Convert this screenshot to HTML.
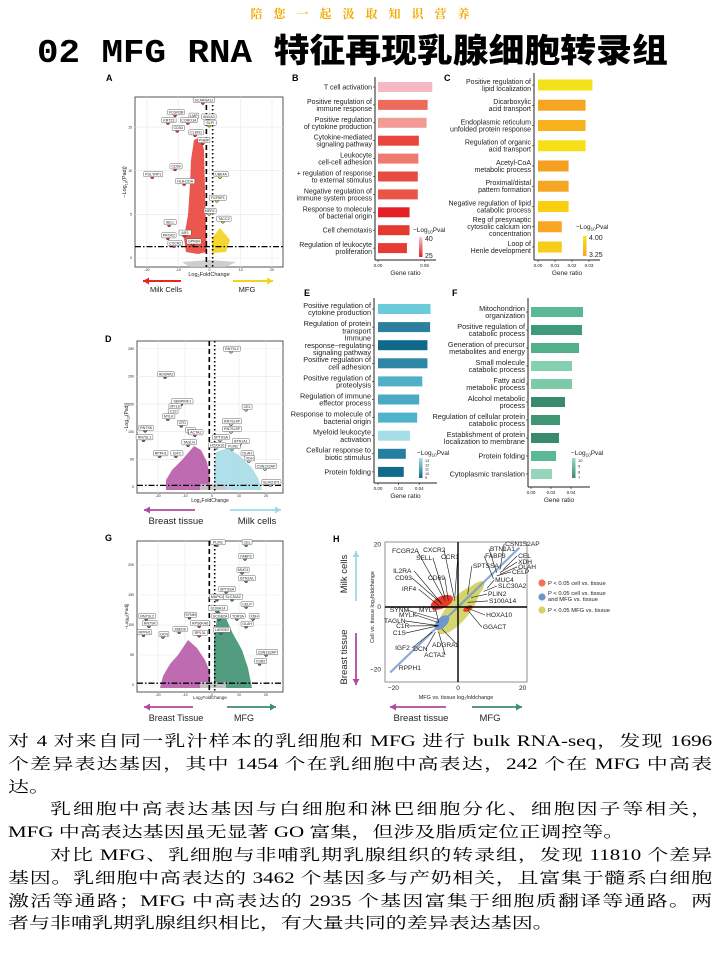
<!DOCTYPE html>
<html><head><meta charset="utf-8">
<style>
html,body{margin:0;padding:0;background:#fff;}
body{width:720px;height:960px;position:relative;overflow:hidden;font-family:"Liberation Sans","Noto Sans CJK SC",sans-serif;}
#hdr{position:absolute;top:5px;left:0;width:720px;text-align:center;color:#f2a900;font-family:"Noto Serif CJK SC","WenQuanYi Zen Hei",serif;font-weight:bold;font-size:12px;letter-spacing:11px;padding-left:11px;box-sizing:border-box;}
#title{position:absolute;top:28px;left:37px;white-space:nowrap;font-size:33px;font-weight:bold;line-height:40px;transform:scaleX(1.086);transform-origin:left top;color:#000;}
#title .lat{font-family:"Liberation Mono",monospace;}
#title .cjk{font-family:"Noto Sans CJK SC",sans-serif;font-weight:900;}
#para{position:absolute;top:731px;left:8px;width:520px;transform:scaleX(1.354);transform-origin:left top;font-family:"Liberation Serif","Noto Serif CJK SC",serif;font-size:15.5px;line-height:22.8px;color:#000;}
#para .ln{white-space:nowrap;height:22.8px;overflow:visible;}
#para .j{text-align:justify;text-align-last:justify;white-space:normal;}
#para .ind{text-indent:31px;}
svg{position:absolute;left:0;top:0;}
</style></head>
<body>
<div id="hdr">陪您一起汲取知识营养</div>
<div id="title"><span class="lat">02 MFG RNA </span><span class="cjk">特征再现乳腺细胞转录组</span></div>
<svg id="fig" width="720" height="960" viewBox="0 0 720 960"></svg>
<div id="para">
<div class="ln j">对 4 对来自同一乳汁样本的乳细胞和 MFG 进行 bulk RNA-seq，发现 1696</div>
<div class="ln j">个差异表达基因，其中 1454 个在乳细胞中高表达，242 个在 MFG 中高表</div>
<div class="ln">达。</div>
<div class="ln j ind">乳细胞中高表达基因与白细胞和淋巴细胞分化、细胞因子等相关，</div>
<div class="ln">MFG 中高表达基因虽无显著 GO 富集，但涉及脂质定位正调控等。</div>
<div class="ln j ind">对比 MFG、乳细胞与非哺乳期乳腺组织的转录组，发现 11810 个差异</div>
<div class="ln j">基因。乳细胞中高表达的 3462 个基因多与产奶相关，且富集于髓系白细胞</div>
<div class="ln j">激活等通路；MFG 中高表达的 2935 个基因富集于细胞质翻译等通路。两</div>
<div class="ln">者与非哺乳期乳腺组织相比，有大量共同的差异表达基因。</div>
</div>
<script>
// ---------- DATA ----------
const bLabels=["T cell activation","Positive regulation of\nimmune response","Positive regulation\nof cytokine production","Cytokine-mediated\nsignaling pathway","Leukocyte\ncell-cell adhesion","+ regulation of response\nto external stimulus","Negative regulation of\nimmune system process","Response to molecule\nof bacterial origin","Cell chemotaxis","Regulation of leukocyte\nproliferation"];
const bValues=[0.105,0.096,0.094,0.079,0.078,0.077,0.077,0.061,0.061,0.056];
const bColors=["#f6b8c4","#ee6b5c","#f29b95","#e8463a","#ef7b70","#e84b3f","#ea5548","#e41f26","#e53a2f","#e63c31"];
const cLabels=["Positive regulation of\nlipid localization","Dicarboxylic\nacid transport","Endoplasmic reticulum\nunfolded protein response","Regulation of organic\nacid transport","Acetyl-CoA\nmetabolic process","Proximal/distal\npattern formation","Negative regulation of lipid\ncatabolic process","Reg of presynaptic\ncytosolic calcium ion\nconcentration","Loop of\nHenle development"];
const cValues=[0.032,0.028,0.028,0.028,0.018,0.018,0.018,0.014,0.014];
const cColors=["#f5e11a","#f5a623","#f7b21e","#f7e015","#f5a020","#f5a623","#f9cf0e","#f7a724","#f8cc1a"];
const eLabels=["Positive regulation of\ncytokine production","Regulation of protein\ntransport","Immune\nresponse\u2212regulating\nsignaling pathway","Positive regulation of\ncell adhesion","Positive regulation of\nproteolysis","Regulation of immune\neffector process","Response to molecule of\nbacterial origin","Myeloid leukocyte\nactivation","Cellular response to\nbiotic stimulus","Protein folding"];
const eValues=[0.051,0.0506,0.048,0.048,0.043,0.040,0.038,0.031,0.027,0.025];
const eColors=["#6ccbd9","#2e7f9f","#10698a","#2e86a6","#4fb0c7","#4aa9c3","#4fb3cb","#a5dde8","#2480a2","#126b8d"];
const fLabels=["Mitochondrion\norganization","Positive regulation of\ncatabolic process","Generation of precursor\nmetabolites and energy","Small molecule\ncatabolic process","Fatty acid\nmetabolic process","Alcohol metabolic\nprocess","Regulation of cellular protein\ncatabolic process","Establishment of protein\nlocalization to membrane","Protein folding","Cytoplasmic translation"];
const fValues=[0.052,0.051,0.048,0.041,0.041,0.034,0.029,0.028,0.025,0.021];
const fColors=["#5bb894","#3e9a78","#52b08a","#85d0b0","#7ccaa8","#3a8a6c","#3f9574","#3a8a6c","#5bb894","#95d6bb"];

const aGenes=["SCARNA11","FCGR3B","LMP","ANXA3","KRT23","CORO1A","SLPI","CD53","CLDN1","PNMP","CD69","PGLYRP1","HLA-DOA","UBE4A","FGFBP1","MERC","TACC2","SELL","PROK2","AIF1","CXCR2","GPR84"];
const aFC=[-1.8,-10.7,-5,-0.2,-13,-6.6,0.2,-10,-4.3,-1.8,-10.7,-18,-7.8,3.7,2.7,0.2,4.6,-12.6,-13,-7.8,-11,-5];
const aP=[18.1,16.7,16.3,16.2,15.8,15.8,15.5,14.9,14.4,13.5,10.5,9.6,8.8,9.6,6.9,5.4,4.5,4.1,2.6,2.9,1.7,1.9];
const aXTicks=[-20,-10,0,10,20];
const aYTicks=[0,5,10,15];

const dGenes=["RN7SL2","ADGRA2","SERPINF1","MYL9","C1S","MYLK","CFD","C1R","ACTA2","TAGLN","RN7SK","RN7SL1","RPPH1","IGF2","CEL","RN7SL4P","RN7SL5P","SPTSSA","BTN1A1","HOXA10","PLIN2","OLAH","XDH","CSN1S2AP","SLMO1P1"];
const dFC=[7.4,-17,-11,-13.7,-14.4,-16,-11,-8,-6,-8.5,-24.4,-25,-19,-13,13,7.4,7.4,3.3,10.7,1.9,7.8,13,14,20,22];
const dP=[250,204,155,146,137,128,116,103,99,81,107,90,61,61,145,119,105,90,83,76,74,61,52,38,9];
const dXTicks=[-20,-10,0,10,20];
const dYTicks=[0,50,100,150,200,250];

const gGenes=["PLIN2","CEL","FABP3","MUC4","BTN1A1","SPTSSA","MAPK13","SLC30A2","CELP","S100A14","SCGB2A","TOR3A","XDH","OLAH","LARGE2","SYNM","RPS6KA6","ZBED6","RPL3L","RN7SL2","RN7SK","RPPH1","OCN","CSN1S2AP","CSN2"];
const gFC=[2.2,13,12.6,11.5,13,5.6,2.2,7.8,13,2.2,3,9.6,15.6,13,3.7,-8,-4.4,-11.8,-4.4,-24,-23,-25,-17.8,20.4,18];
const gP=[238,238,215,192,178,160,147,147,135,128,115,115,115,102,92,117,103,93,87,115,103,88,85,55,40];
const gXTicks=[-20,-10,0,10,20];
const gYTicks=[0,50,100,150,200];

const hGenes=["CSN1S2AP","BTN1A1","CEL","XDH","OLAH","FABP3","CELP","SPTSSA","MUC4","SLC30A2","PLIN2","S100A14","HOXA10","GGACT","FCGR2A","CXCR2","SELL","CCR1","IL2RA","CD93","CD69","IRF4","SYNM","MYL9","MYLK","TAGLN","C1R","C1S","IGF2","DCN","ADGRA2","ACTA2","RPPH1"];
const hLabX=[14.6,9.9,18.6,18.6,18.6,8.4,16.7,4.6,11.5,12.4,9.3,9.6,8.7,7.7,-16.7,-7.7,-10.5,-2.8,-17,-17,-6.8,-14.9,-18.6,-9.6,-15.8,-19.8,-17.3,-18.3,-17,-12,-4.3,-7.4,-15.2];
const hLabY=[19.6,17.9,15.7,13.8,12.2,15.7,10.6,12.5,8.0,6.1,3.5,1.3,-3.2,-7.1,17.3,17.6,15.1,15.4,10.9,8.7,8.7,5.1,-1.6,-1.6,-3.2,-5.1,-6.7,-9,-13.8,-14.1,-12.8,-16,-20.2];
const hPtX=[13,12,14,13,13,11,12,3,9,8,4,3,2,3,-4,-1,-4,-1,-5,-5,-3,-6,-6,-6,-6,-6,-6,-6,-8,-7,-5,-6,-20];
const hPtY=[12,11,12,11,10.5,9,10,4,6,5,3,1.5,0,-1,2,2,3,3,1,1,2,0.5,-4,-5,-5,-6,-6,-6,-8,-8,-7,-8,-21];
const hXTicks=[-20,0,20];
const hYTicks=[20,0,-20];

// ---------- HELPERS ----------
const NS="http://www.w3.org/2000/svg";
const svg=document.getElementById("fig");
function mk(tag,attrs,parent){const e=document.createElementNS(NS,tag);for(const k in attrs)e.setAttribute(k,attrs[k]);(parent||svg).appendChild(e);return e;}
function txt(x,y,s,size,anchor,parent,extra){const t=mk("text",Object.assign({x:x,y:y,"font-size":size,"text-anchor":anchor||"start","font-family":"Liberation Sans, sans-serif",fill:"#222"},extra||{}),parent);t.textContent=s;return t;}
function group(name){const g=mk("g",{});


return g;}
function panelLabel(x,y,s){const t=txt(x,y,s,9,"start",svg,{"font-weight":"bold",fill:"#000"});

}
function arrow(g,x1,y1,x2,y2,color,w){mk("line",{x1:x1,y1:y1,x2:x2,y2:y2,stroke:color,"stroke-width":w||2},g);
const ang=Math.atan2(y2-y1,x2-x1),L=6,W=3.5;
const p=[[x2,y2],[x2-L*Math.cos(ang)+W*Math.sin(ang),y2-L*Math.sin(ang)-W*Math.cos(ang)],[x2-L*Math.cos(ang)-W*Math.sin(ang),y2-L*Math.sin(ang)+W*Math.cos(ang)]];
mk("polygon",{points:p.map(q=>q.join(",")).join(" "),fill:color},g);}
function logLabel(g,x,y,size,anchor,suffix,rot){const t=mk("text",{x:x,y:y,"font-size":size,"text-anchor":anchor,"font-family":"Liberation Sans, sans-serif",fill:"#222"},g);
if(rot)t.setAttribute("transform","rotate(-90 "+x+" "+y+")");
const a=mk("tspan",{},t);a.textContent="\u2212Log";const b=mk("tspan",{"font-size":size*0.7,dy:size*0.25},t);b.textContent="10";const c=mk("tspan",{dy:-size*0.25},t);c.textContent=suffix;return t;}

// ---------- BAR CHARTS ----------
function barChart(o,labels,values,colors){
 const g=group(o.name);
 const sx=v=>o.x0+v*o.ppu;
 mk("line",{x1:o.ax,y1:o.axTop,x2:o.ax,y2:o.axBot,stroke:"#222","stroke-width":1},g);
 mk("line",{x1:o.ax,y1:o.axBot,x2:o.axRight,y2:o.axBot,stroke:"#222","stroke-width":1},g);
 values.forEach((v,i)=>{
  const cy=o.yc0+i*o.step;
  const r=mk("rect",{x:o.x0,y:cy-o.bh/2,width:sx(v)-o.x0,height:o.bh,fill:colors[i]},g);
  
  
  mk("line",{x1:o.ax-2,y1:cy,x2:o.ax,y2:cy,stroke:"#222","stroke-width":0.6},g);
  const lines=labels[i].split("\n");
  const lh=o.fs*1.0;
  lines.forEach((ln,k)=>{txt(o.ax-3,cy+o.fs*0.35+(k-(lines.length-1)/2)*lh,ln,o.fs,"end",g);});
 });
 o.ticks.forEach((t,i)=>{const x=sx(t);mk("line",{x1:x,y1:o.axBot,x2:x,y2:o.axBot+2,stroke:"#222","stroke-width":0.6},g);
  txt(x,o.axBot+7,o.tickLabels[i],4.5,"middle",g);});
 txt((o.ax+o.axRight)/2,o.axBot+15,"Gene ratio",6.5,"middle",g);
 const lg=group(o.name+"-legend");
 logLabel(lg,o.legX,o.legY,6.5,"start","Pval");
 const gid=o.name+"-grad";
 const defs=mk("defs",{},lg);const lgd=mk("linearGradient",{id:gid,x1:0,y1:0,x2:0,y2:1},defs);
 mk("stop",{offset:"0","stop-color":o.gradTop},lgd);mk("stop",{offset:"1","stop-color":o.gradBot},lgd);
 mk("rect",{x:o.legBarX,y:o.legBarY,width:3.5,height:o.legBarH,fill:"url(#"+gid+")"},lg);
 o.legTicks.forEach((s,i)=>{txt(o.legBarX+6,o.legBarY+4+i*(o.legBarH-3)/(o.legTicks.length-1),s,o.legFs,"start",lg);});
}

barChart({name:"panel-b-go-bars",x0:378,ppu:517,ax:375,axTop:77,axBot:260,axRight:436,yc0:87,step:17.9,bh:10,fs:7,
 ticks:[0,0.09],tickLabels:["0.00","0.09"],legX:413,legY:232,legBarX:419,legBarY:237,legBarH:20,gradTop:"#f8c6cc",gradBot:"#e41f26",legTicks:["40","25"],legFs:7},bLabels,bValues,bColors);
barChart({name:"panel-c-go-bars",x0:538,ppu:1700,ax:534,axTop:73,axBot:260,axRight:600,yc0:85,step:20.25,bh:11,fs:7,
 ticks:[0,0.01,0.02,0.03],tickLabels:["0.00","0.01","0.02","0.03"],legX:576,legY:229,legBarX:583,legBarY:236,legBarH:20,gradTop:"#f7e515",gradBot:"#f5a623",legTicks:["4.00","3.25"],legFs:7},cLabels,cValues,cColors);
barChart({name:"panel-e-go-bars",x0:378,ppu:1030,ax:374,axTop:298,axBot:483,axRight:437,yc0:309,step:18.1,bh:10,fs:7.3,
 ticks:[0,0.02,0.04],tickLabels:["0.00","0.02","0.04"],legX:417,legY:455,legBarX:419,legBarY:458,legBarH:20,gradTop:"#a8e0ea",gradBot:"#10698a",legTicks:["13","12","11","10","9"],legFs:3.8},eLabels,eValues,eColors);
barChart({name:"panel-f-go-bars",x0:531,ppu:1000,ax:528,axTop:298,axBot:487,axRight:590,yc0:312,step:18.0,bh:10,fs:7.3,
 ticks:[0,0.02,0.04],tickLabels:["0.00","0.02","0.04"],legX:571,legY:455,legBarX:572,legBarY:458,legBarH:20,gradTop:"#9edcc2",gradBot:"#3a8a6c",legTicks:["10","9","8","7"],legFs:4},fLabels,fValues,fColors);

// ---------- VOLCANO ----------
function volcano(o,genes,fc,p,xt,yt){
 const g=group(o.name);
 const sx=v=>o.cx+v*o.kx, sy=v=>o.cy-v*o.ky;
 mk("rect",{x:o.x0,y:o.y0,width:o.x1-o.x0,height:o.y1-o.y0,fill:"#fff",stroke:"#444","stroke-width":0.9},g);
 xt.forEach(t=>{mk("line",{x1:sx(t),y1:o.y0,x2:sx(t),y2:o.y1,stroke:"#e8e8e8","stroke-width":0.6},g);txt(sx(t),o.y1+4,String(t),3.5,"middle",g);});
 yt.forEach(t=>{mk("line",{x1:o.x0,y1:sy(t),x2:o.x1,y2:sy(t),stroke:"#e8e8e8","stroke-width":0.6},g);txt(o.x0-3,sy(t)+1.2,String(t),3.5,"end",g);});
 o.clouds.forEach(c=>{const pg=mk("polygon",{points:c.pts,fill:c.fill,opacity:c.op||0.9},g);
  
  });
 mk("line",{x1:sx(-1),y1:o.y0,x2:sx(-1),y2:o.y1,stroke:"#000","stroke-width":1.6,"stroke-dasharray":"5,3"},g);
 mk("line",{x1:sx(1),y1:o.y0,x2:sx(1),y2:o.y1,stroke:"#000","stroke-width":1.6,"stroke-dasharray":"1.5,2.5"},g);
 mk("line",{x1:o.x0,y1:sy(o.hline),x2:o.x1,y2:sy(o.hline),stroke:"#000","stroke-width":1.3,"stroke-dasharray":"6,2,1.5,2"},g);
 genes.forEach((name,i)=>{
  const x=sx(fc[i]),y=sy(p[i]);
  const c=mk("circle",{cx:x-1,cy:y+3,r:1.5,fill:fc[i]<0?o.negCol:o.posCol,stroke:"#111","stroke-width":0.5},g);
  
  
  const w=name.length*2.3+3;
  mk("rect",{x:x-w/2,y:y-2.6,width:w,height:5.2,fill:"#fff",stroke:"#555","stroke-width":0.45,rx:0.8},g);
  txt(x,y+1.3,name,3.6,"middle",g);
 });
 const xl=mk("text",{x:(o.x0+o.x1)/2,y:o.y1+o.xlabDy,"font-size":o.xlabFs,"text-anchor":"middle","font-family":"Liberation Sans, sans-serif",fill:"#222"},g);
 const s1=mk("tspan",{},xl);s1.textContent="Log";const s2=mk("tspan",{"font-size":o.xlabFs*0.7,dy:1},xl);s2.textContent="2";const s3=mk("tspan",{dy:-1},xl);s3.textContent="FoldChange";
 logLabel(g,o.x0-9,(o.y0+o.y1)/2,o.xlabFs,"middle","(Padj)",true);
}

volcano({name:"panel-a-volcano",x0:135,x1:283,y0:97,y1:267,cx:209.5,kx:3.125,cy:258,ky:8.73,hline:1.3,negCol:"#e8392f",posCol:"#f3d31b",xlabDy:9,xlabFs:5.5,
 clouds:[{pts:"182,262 210,260 236,262 226,267 190,267",fill:"#c9c9c9"},
 {pts:"194,140 201,137 204,150 205,190 206,230 207,252 198,254 186,252 184,238 188,215 190,185 191,160",fill:"#e8392f",op:0.85},
 {pts:"212,238 220,228 230,240 226,252 212,253",fill:"#f3d31b",op:0.9}]},aGenes,aFC,aP,aXTicks,aYTicks);

volcano({name:"panel-d-volcano",x0:137,x1:283,y0:341,y1:493,cx:212,kx:2.7,cy:487,ky:0.553,hline:3,negCol:"#b04aa0",posCol:"#9dd8e6",xlabDy:9,xlabFs:5,
 clouds:[{pts:"194,446 201,450 207,462 210,478 210,490 166,490 166,480 172,470 182,460",fill:"#b85ba8"},
 {pts:"216,452 228,448 240,456 252,468 258,478 262,490 214,490 214,470",fill:"#a6dbe7"},
 {pts:"200,484 226,484 226,490 200,490",fill:"#c9c9c9"}]},dGenes,dFC,dP,dXTicks,dYTicks);

volcano({name:"panel-g-volcano",x0:137,x1:283,y0:541,y1:692,cx:212,kx:2.7,cy:685,ky:0.6,hline:3,negCol:"#b04aa0",posCol:"#3e8e6e",xlabDy:7,xlabFs:4.5,
 clouds:[{pts:"188,640 197,648 205,660 210,672 210,688 160,688 163,676 170,664 178,655",fill:"#b85ba8"},
 {pts:"218,610 226,618 232,632 242,650 248,668 252,688 214,688 214,640",fill:"#3f9272"},
 {pts:"200,682 226,682 226,688 200,688",fill:"#c9c9c9"}]},gGenes,gFC,gP,gXTicks,gYTicks);

(function(){
 const g=group("panel-a-direction-arrows");
 arrow(g,181,281,143,281,"#e8251e",2);arrow(g,233,281,273,281,"#f3d31b",2);
 txt(166,292,"Milk Cells",7.5,"middle",g);txt(247,292,"MFG",7.5,"middle",g);
 const g2=group("panel-d-direction-arrows");
 arrow(g2,195,510,144,510,"#b04aa0",1.8);arrow(g2,230,510,281,510,"#9dd8e6",1.8);
 txt(176,524,"Breast tissue",9.5,"middle",g2);txt(257,524,"Milk cells",9.5,"middle",g2);
 const g3=group("panel-g-direction-arrows");
 arrow(g3,193,707,144,707,"#b04aa0",1.8);arrow(g3,227,707,276,707,"#3e8e6e",1.8);
 txt(176,721,"Breast Tissue",9,"middle",g3);txt(244,721,"MFG",9,"middle",g3);
})();

// ---------- PANEL H SCATTER ----------
(function(){
 const g=group("panel-h-scatter");
 const o={x0:385,x1:527,y0:542,y1:682};
 const sx=v=>458+v*3.23, sy=v=>607-v*3.12;
 mk("rect",{x:o.x0,y:o.y0,width:o.x1-o.x0,height:o.y1-o.y0,fill:"#fff",stroke:"#777","stroke-width":0.8},g);
 mk("ellipse",{cx:sx(0),cy:sy(-1),rx:30,ry:11,fill:"#d4d36a",transform:"rotate(-50 "+sx(0)+" "+sy(-1)+")",opacity:0.95},g);
 mk("ellipse",{cx:sx(4),cy:sy(4),rx:18,ry:6,fill:"#d4d36a",transform:"rotate(-45 "+sx(4)+" "+sy(4)+")"},g);
 mk("line",{x1:sx(-21),y1:sy(-21),x2:sx(19),y2:sy(19),stroke:"#6f95d0","stroke-width":2.2,opacity:0.8},g);
 mk("ellipse",{cx:sx(-5),cy:sy(-5),rx:9,ry:5,fill:"#6f95d0",transform:"rotate(-45 "+sx(-5)+" "+sy(-5)+")"},g);
 mk("ellipse",{cx:sx(-5),cy:sy(1.5),rx:12,ry:6,fill:"#ea3a2a",transform:"rotate(-25 "+sx(-5)+" "+sy(1.5)+")"},g);
 mk("ellipse",{cx:sx(3),cy:sy(-0.5),rx:5,ry:2.5,fill:"#ea3a2a",transform:"rotate(-30 "+sx(3)+" "+sy(-0.5)+")"},g);
 mk("line",{x1:458,y1:o.y0,x2:458,y2:o.y1,stroke:"#000","stroke-width":1.4},g);
 mk("line",{x1:o.x0,y1:607,x2:o.x1,y2:607,stroke:"#000","stroke-width":1.4},g);
 hXTicks.forEach(t=>txt(sx(t),690,String(t===0?0:t<0?"\u2212"+(-t):t),6.5,"middle",g));
 hYTicks.forEach(t=>txt(381,sy(t)+2,String(t===0?0:t<0?"\u2212"+(-t):t),6.5,"end",g));
 txt(456,699,"MFG vs. tissue log\u2082foldchange",5.5,"middle",g);
 const yl=txt(374,607,"Cell vs. tissue log\u2082foldchange",5.5,"middle",g);yl.setAttribute("transform","rotate(-90 374 607)");
 hGenes.forEach((n,i)=>{
  const lx=sx(hLabX[i]),ly=sy(hLabY[i]);
  const right=hLabX[i]>0;
  if(n!=="RPPH1"){
   const l=mk("line",{x1:right?lx-1:lx+n.length*2.2,y1:ly-2,x2:sx(hPtX[i]),y2:sy(hPtY[i]),stroke:"#111","stroke-width":0.6},g);
   
   
  }
  const t=txt(right?lx:lx-n.length*2.0,ly,n,6.6,"start",g);
  
  
 });
 const lg=group("panel-h-legend");
 mk("circle",{cx:542,cy:583,r:3.6,fill:"#f0735a"},lg);
 mk("circle",{cx:542,cy:597,r:3.6,fill:"#6f95d0"},lg);
 mk("circle",{cx:542,cy:610,r:3.6,fill:"#d4d36a"},lg);
 txt(548,585,"P < 0.05 cell vs. tissue",5.8,"start",lg);
 txt(548,595,"P < 0.05 cell vs. tissue",5.8,"start",lg);
 txt(548,601,"and MFG vs. tissue",5.8,"start",lg);
 txt(548,612,"P < 0.05 MFG vs. tissue",5.8,"start",lg);
 const ag=group("panel-h-arrows");
 arrow(ag,356,601,356,551,"#9dd8e6",1.8);arrow(ag,356,633,356,685,"#b04aa0",1.8);
 const m=txt(347,574,"Milk cells",9.5,"middle",ag);m.setAttribute("transform","rotate(-90 347 574)");
 const b=txt(347,657,"Breast tissue",9.5,"middle",ag);b.setAttribute("transform","rotate(-90 347 657)");
 arrow(ag,446,707,390,707,"#b04aa0",1.8);arrow(ag,472,707,522,707,"#3e8e6e",1.8);
 txt(421,721,"Breast tissue",9.5,"middle",ag);txt(490,721,"MFG",9.5,"middle",ag);
})();

panelLabel(106,81,"A");panelLabel(292,81,"B");panelLabel(444,81,"C");
panelLabel(105,342,"D");panelLabel(304,296,"E");panelLabel(452,296,"F");
panelLabel(105,541,"G");panelLabel(333,542,"H");
</script>
</body></html>
